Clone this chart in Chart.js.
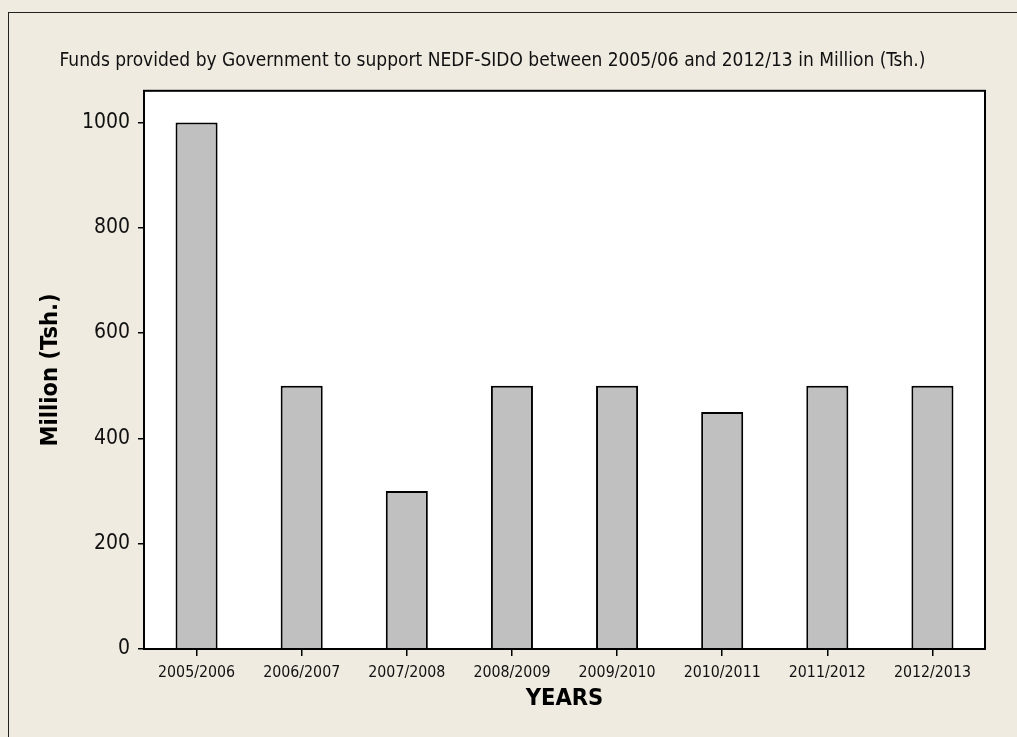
<!DOCTYPE html>
<html>
<head>
<meta charset="utf-8">
<title>NEDF-SIDO funds</title>
<script src="https://cdn.jsdelivr.net/npm/chart.js@4.4.1/dist/chart.umd.min.js"></script>
<style>
    html, body { margin: 0; padding: 0; background: #efebe1; }
    #wrap { width: 1017px; height: 737px; }
</style>
</head>
<body>
<div id="wrap"><canvas id="fundsChart" width="1017" height="737"></canvas></div>
<script>
const years = ['2005/2006', '2006/2007', '2007/2008', '2008/2009', '2009/2010', '2010/2011', '2011/2012', '2012/2013'];
const funds = [1000, 500, 300, 500, 500, 450, 500, 500];
const yTicks = [0, 200, 400, 600, 800, 1000];

const FONT = "'DejaVu Sans Condensed', Tahoma, sans-serif";

// beige page, outer frame, white plot area with black frame
const framePlugin = {
    id: 'frame',
    beforeDraw(chart) {
        const ctx = chart.ctx;
        const a = chart.chartArea;
        ctx.save();
        ctx.fillStyle = '#efebe1';
        ctx.fillRect(0, 0, chart.width, chart.height);
        ctx.strokeStyle = '#222';
        ctx.lineWidth = 1;
        ctx.strokeRect(8.5, 12.5, chart.width + 20, chart.height + 20);
        ctx.fillStyle = '#fff';
        ctx.fillRect(a.left, a.top, a.right - a.left, a.bottom - a.top);
        ctx.restore();
    },
    afterDraw(chart) {
        const ctx = chart.ctx;
        const a = chart.chartArea;
        ctx.save();
        ctx.strokeStyle = '#000';
        ctx.lineWidth = 2;
        ctx.strokeRect(a.left, a.top, a.right - a.left, a.bottom - a.top);
        ctx.restore();
    }
};

new Chart(document.getElementById('fundsChart').getContext('2d'), {
    type: 'bar',
    data: {
        labels: years,
        datasets: [{
            label: 'Million (Tsh.)',
            data: funds,
            backgroundColor: '#c0c0c0',
            borderColor: '#000',
            borderWidth: 2,
            barPercentage: 0.4,
            categoryPercentage: 1
        }]
    },
    options: {
        responsive: false,
        animation: false,
        devicePixelRatio: 1,
        layout: { padding: { top: 0, right: 32, bottom: 0, left: 0 } },
        plugins: {
            legend: { display: false },
            tooltip: { enabled: false },
            title: {
                display: true,
                text: 'Funds provided by Government to support NEDF-SIDO between 2005/06 and 2012/13 in Million (Tsh.)',
                color: '#111',
                font: { family: FONT, size: 19, weight: 'normal', lineHeight: 1.2 },
                padding: { top: 50, bottom: 18 }
            }
        },
        scales: {
            x: {
                offset: true,
                grid: { display: true, offset: false, drawOnChartArea: false, drawTicks: true, tickLength: 7, color: '#000', lineWidth: 1.5 },
                border: { display: true, color: '#000', width: 2 },
                ticks: { color: '#111', padding: 7, font: { family: FONT, size: 15.8 }, maxRotation: 0, autoSkip: false },
                title: {
                    display: true,
                    text: 'YEARS',
                    color: '#000',
                    font: { family: FONT, size: 23.5, weight: 'bold', lineHeight: 1.2 },
                    padding: { top: 0, bottom: 24 }
                },
                afterFit(scale) { scale.height = 88; }
            },
            y: {
                min: 0,
                max: 1060,
                grid: { display: true, drawOnChartArea: false, drawTicks: true, tickLength: 6, color: '#000', lineWidth: 1.5 },
                border: { display: true, color: '#000', width: 2 },
                ticks: { color: '#111', padding: 8, font: { family: FONT, size: 21 }, callback: (v) => String(v) },
                afterBuildTicks(scale) { scale.ticks = yTicks.map((v) => ({ value: v })); },
                title: {
                    display: true,
                    text: 'Million (Tsh.)',
                    color: '#000',
                    font: { family: FONT, size: 23.5, weight: 'bold', lineHeight: 1.2 },
                    padding: { top: 37, bottom: 0 }
                },
                afterFit(scale) { scale.width = 144; }
            }
        }
    },
    plugins: [framePlugin]
});
</script>
</body>
</html>
